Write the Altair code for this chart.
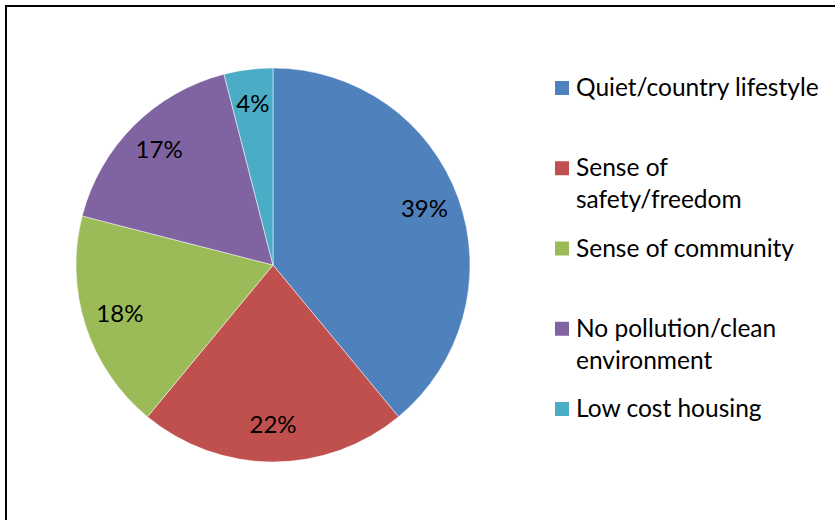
import altair as alt
import pandas as pd

# Reasons given for living in the area (share of respondents, %)
categories = [
    "Quiet/country lifestyle",
    "Sense of safety/freedom",
    "Sense of community",
    "No pollution/clean environment",
    "Low cost housing",
]
legend_text = [
    "Quiet/country lifestyle",
    "Sense of\nsafety/freedom",
    "Sense of community",
    "No pollution/clean\nenvironment",
    "Low cost housing",
]
shares = [39, 22, 18, 17, 4]
colors = ["#4F81BD", "#C0504D", "#9BBB59", "#8064A2", "#4BACC6"]

df = pd.DataFrame({
    "category": categories,
    "legend": legend_text,
    "share": shares,
    "order": list(range(len(categories))),
    "label": [f"{s}%" for s in shares],
})

FONT = "Lato"
W, H = 835, 520
CX, CY, R = 273, 265, 197

color = alt.Color("category:N", scale=alt.Scale(domain=categories, range=colors), legend=None)

base = alt.Chart(df)

pie = base.mark_arc(radius=R, stroke="white", strokeWidth=0.5).encode(
    theta=alt.Theta("share:Q", stack=True),
    order=alt.Order("order:Q"),
    color=color,
    x=alt.value(CX),
    y=alt.value(CY),
)

pct = base.mark_text(radius=161, font=FONT, fontSize=24, color="black").encode(
    theta=alt.Theta("share:Q", stack=True),
    order=alt.Order("order:Q"),
    text="label:N",
    x=alt.value(CX),
    y=alt.value(CY),
)

# Legend on the right, one evenly spaced row per category
row = alt.Y(
    "category:N",
    scale=alt.Scale(type="point", domain=categories, range=[88, 409], padding=0),
    axis=None,
)

swatch = base.mark_square(size=196, opacity=1, strokeWidth=0).encode(
    y=row,
    x=alt.value(562),
    color=color,
)

names = base.mark_text(
    align="left", baseline="alphabetic", dy=8, lineBreak="\n", lineHeight=32,
    font=FONT, fontSize=24.5, color="black",
).encode(
    y=row,
    x=alt.value(576),
    text="legend:N",
)

frame_top = alt.Chart(df).mark_rule(color="black", strokeWidth=2).encode(
    x=alt.value(5), x2=alt.value(W + 10), y=alt.value(6)
)
frame_left = alt.Chart(df).mark_rule(color="black", strokeWidth=2).encode(
    x=alt.value(6), y=alt.value(5), y2=alt.value(H + 10)
)

chart = alt.layer(pie, pct, swatch, names, frame_top, frame_left).properties(
    width=W, height=H, autosize=alt.AutoSizeParams(type="none"), padding=0,
    background="white",
).configure_view(stroke=None)

chart.save("out.html", embed_options={"renderer": "svg", "actions": False})
